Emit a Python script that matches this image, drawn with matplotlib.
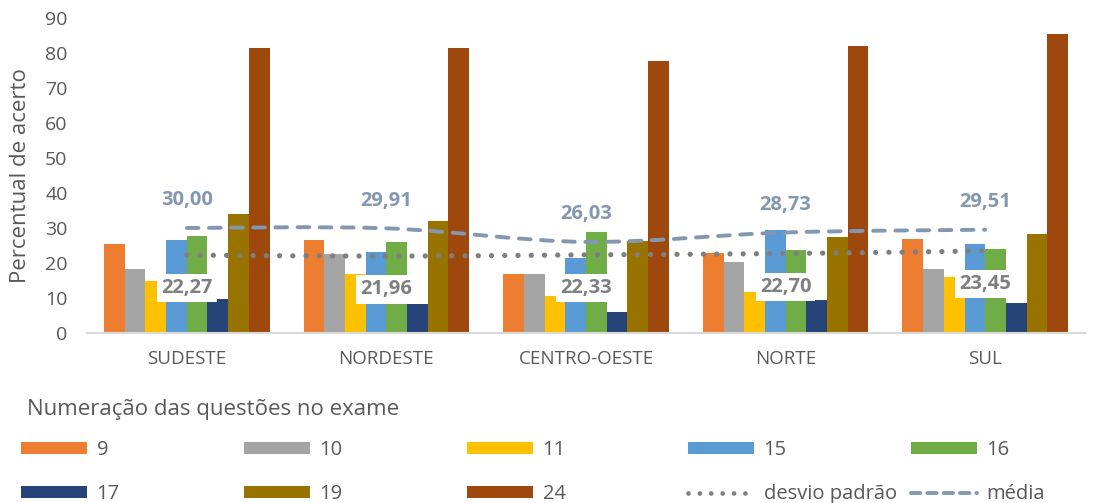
import numpy as np
import matplotlib
matplotlib.use("Agg")
import matplotlib.pyplot as plt
from matplotlib.path import Path
from matplotlib.patches import PathPatch, Patch
from matplotlib.lines import Line2D

plt.rcParams['font.family'] = ['Open Sans', 'DejaVu Sans']

regions = ["SUDESTE", "NORDESTE", "CENTRO-OESTE", "NORTE", "SUL"]
questions = ["9", "10", "11", "15", "16", "17", "19", "24"]
q9 = [25.4, 26.6, 16.9, 22.9, 26.8]
q10 = [18.4, 22.5, 16.9, 20.2, 18.3]
q11 = [14.9, 16.9, 10.6, 11.6, 15.9]
q15 = [26.6, 23.1, 21.5, 29.4, 25.4]
q16 = [27.6, 25.9, 28.9, 23.7, 24.0]
q17 = [9.6, 8.4, 5.9, 9.5, 8.7]
q19 = [34.0, 31.9, 26.2, 27.5, 28.3]
q24 = [81.3, 81.3, 77.8, 82.1, 85.3]
desvio = [22.27, 21.96, 22.33, 22.70, 23.45]
media = [30.00, 29.91, 26.03, 28.73, 29.51]

series = [q9, q10, q11, q15, q16, q17, q19, q24]
colors = ["#ED7D31", "#A5A5A5", "#FFC000", "#5B9BD5", "#70AD47",
          "#264478", "#997300", "#9E480E"]
mean_color = "#8497B0"
sd_color = "#7F7F7F"
text_gray = "#595959"

fig = plt.figure(figsize=(11.03, 5.03), dpi=100)
ax = fig.add_axes([87/1103, 1 - 333/503, (1085-87)/1103, (333-18)/503])

x = np.arange(len(regions))
bw = 0.1037
for i, (vals, c) in enumerate(zip(series, colors)):
    ax.bar(x + (i - 3.5) * bw, vals, width=bw, color=c, zorder=2)


def smooth_path(xs, ys):
    pts = np.column_stack([xs, ys])
    verts = [pts[0]]
    codes = [Path.MOVETO]
    n = len(pts)
    for k in range(n - 1):
        p0 = pts[k - 1] if k > 0 else pts[k]
        p1 = pts[k]
        p2 = pts[k + 1]
        p3 = pts[k + 2] if k + 2 < n else pts[k + 1]
        c1 = p1 + (p2 - p0) / 6.0
        c2 = p2 - (p3 - p1) / 6.0
        verts += [c1, c2, p2]
        codes += [Path.CURVE4] * 3
    return Path(verts, codes)


sd_patch = PathPatch(smooth_path(x, desvio), fill=False, edgecolor=sd_color,
                     lw=3.8, linestyle=(0, (0.01, 2.5)), capstyle='round', zorder=3)
mean_patch = PathPatch(smooth_path(x, media), fill=False, edgecolor=mean_color,
                       lw=2.8, linestyle=(0, (3, 2.7)), capstyle='round', zorder=3)
ax.add_patch(sd_patch)
ax.add_patch(mean_patch)

for xi, v in zip(x, media):
    ax.annotate(f"{v:.2f}".replace(".", ","), (xi, v), xytext=(0, 20),
                textcoords="offset points", ha="center", va="center",
                fontsize=14.5, fontweight="bold", color=mean_color, zorder=5)
for xi, v in zip(x, desvio):
    ax.annotate(f"{v:.2f}".replace(".", ","), (xi, v), xytext=(0, -24),
                textcoords="offset points", ha="center", va="center",
                fontsize=14.5, fontweight="bold", color=sd_color, zorder=5,
                bbox=dict(boxstyle="square,pad=0.2", fc="white", ec="none"))

ax.set_xlim(-0.5, len(regions) - 0.5)
ax.set_ylim(0, 90)
ax.set_yticks(np.arange(0, 91, 10))
ax.set_xticks(x)
ax.set_xticklabels(regions)
ax.tick_params(axis="both", length=0, colors=text_gray)
ax.tick_params(axis="y", labelsize=14, pad=14)
ax.tick_params(axis="x", labelsize=13.5, pad=12)
for s in ["top", "right", "left"]:
    ax.spines[s].set_visible(False)
ax.spines["bottom"].set_color("#D9D9D9")
ax.spines["bottom"].set_linewidth(1.5)
ax.set_ylabel("Percentual de acerto", fontsize=16, color=text_gray, labelpad=10)

# legend
fig.text(27/1103, 1 - 410/503, "Numeração das questões no exame", fontsize=16,
         color=text_gray, ha="left", va="center")

handles = [Patch(facecolor=c) for c in colors]
handles.append(Line2D([], [], color=sd_color, lw=3.4, linestyle=(0, (0.01, 2.4)),
                      dash_capstyle='round'))
handles.append(Line2D([], [], color=mean_color, lw=2.8, linestyle=(0, (2.4, 1.8)),
                      dash_capstyle='round'))
labels = questions + ["desvio padrão", "média"]
cols = [[0, 5], [1, 6], [2, 7], [3, 8], [4, 9]]
col_x = [21, 244, 467, 688, 911]
for cx, idx in zip(col_x, cols):
    fig.legend([handles[i] for i in idx], [labels[i] for i in idx],
               loc="upper left", bbox_to_anchor=(cx/1103, 1 - 440/503),
               frameon=False, fontsize=14.5, handlelength=3.3, handleheight=0.5,
               handletextpad=0.45, labelspacing=1.2, borderpad=0,
               borderaxespad=0, labelcolor=text_gray)

fig.savefig("out.png", dpi=100)
